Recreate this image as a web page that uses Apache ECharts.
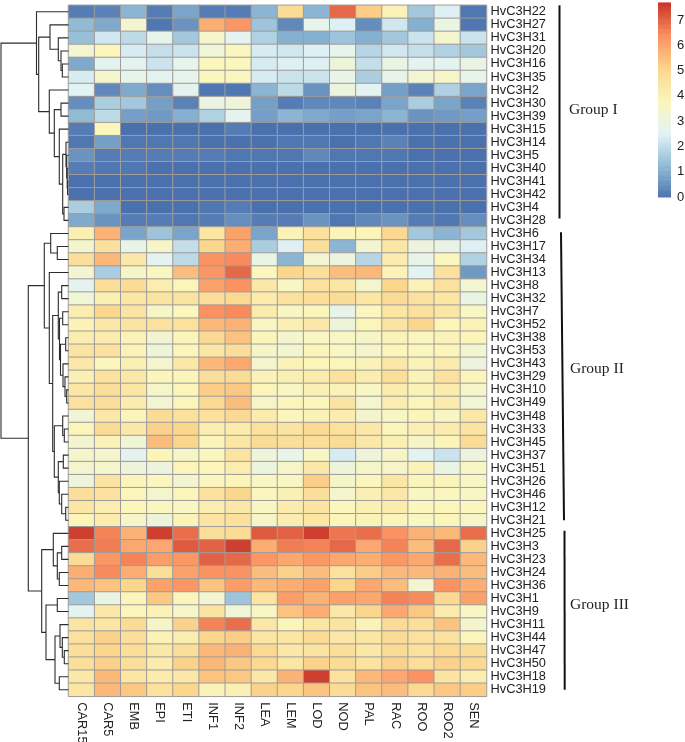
<!DOCTYPE html>
<html>
<head>
<meta charset="utf-8">
<title>HvC3H expression heatmap</title>
<script src="https://cdn.jsdelivr.net/npm/echarts@6/dist/echarts.min.js"></script>
<style>
  html, body { margin: 0; padding: 0; background: #fff; }
  #chart { width: 685px; height: 742px; }
</style>
</head>
<body>
<div id="chart"></div>
<script>
var tissues = ['CAR15','CAR5','EMB','EPI','ETI','INF1','INF2','LEA','LEM','LOD','NOD','PAL','RAC','ROO','ROO2','SEN'];

var genesGroupI = ['HvC3H22','HvC3H27','HvC3H31','HvC3H20','HvC3H16','HvC3H35','HvC3H2','HvC3H30','HvC3H39','HvC3H15','HvC3H14','HvC3H5','HvC3H40','HvC3H41','HvC3H42','HvC3H4','HvC3H28'];
var genesGroupII = ['HvC3H6','HvC3H17','HvC3H34','HvC3H13','HvC3H8','HvC3H32','HvC3H7','HvC3H52','HvC3H38','HvC3H53','HvC3H43','HvC3H29','HvC3H10','HvC3H49','HvC3H48','HvC3H33','HvC3H45','HvC3H37','HvC3H51','HvC3H26','HvC3H46','HvC3H12','HvC3H21'];
var genesGroupIII = ['HvC3H25','HvC3H3','HvC3H23','HvC3H24','HvC3H36','HvC3H1','HvC3H9','HvC3H11','HvC3H44','HvC3H47','HvC3H50','HvC3H18','HvC3H19'];

// values, one row per gene, same order as tissues
var exprGroupI = [
  [0.2,0.3,1.2,0.2,0.9,0.2,0.2,1.2,4.9,1.2,7.0,5.3,4.0,1.6,2.5,0.1],
  [1.3,1.0,3.4,0.1,0.6,5.9,6.3,1.5,0.4,2.8,2.5,0.5,2.3,1.1,3.0,0.1],
  [1.4,2.3,2.0,2.8,1.6,3.5,2.7,1.8,1.1,1.1,1.5,1.1,1.6,2.2,3.5,2.2],
  [3.4,3.9,2.4,2.1,2.2,3.3,3.8,2.4,2.3,2.5,2.8,1.9,2.3,2.1,1.8,1.6],
  [1.0,2.7,2.7,2.2,2.8,3.8,3.8,2.4,2.5,2.5,3.2,2.1,3.0,2.7,2.7,3.0],
  [2.4,3.5,2.8,2.7,2.8,3.8,3.8,2.4,2.2,2.2,2.9,1.7,2.9,3.4,3.6,2.8],
  [2.6,0.4,1.0,0.5,2.7,0.1,0.1,1.2,2.0,0.6,3.1,2.7,0.8,0.3,1.8,0.9],
  [0.5,1.7,1.6,0.8,0.3,3.0,3.2,0.8,0.2,0.4,0.4,0.3,0.9,1.7,0.9,0.3],
  [1.3,2.0,0.8,0.7,1.1,1.8,2.7,0.8,1.2,1.0,0.8,0.9,1.2,0.6,0.7,0.8],
  [0.2,3.8,0,0,0,0,0.2,0,0,0,0,0,0,0,0,0],
  [0.1,0.8,0.1,0.1,0.1,0,0,0,0.1,0.1,0,0.1,0.3,0,0,0],
  [0.6,0.2,0.2,0.2,0.2,0.2,0.1,0.1,0.1,0.4,0.1,0.1,0.1,0,0,0],
  [0.2,0.1,0.1,0,0,0,0,0,0,0,0,0,0,0,0,0],
  [0,0,0,0,0,0,0,0,0,0,0,0,0,0,0,0],
  [0,0,0,0,0,0,0,0,0,0,0,0,0,0,0,0],
  [1.7,1.0,0,0,0,0.1,0.2,0,0,0,0,0,0,0,0,0],
  [1.0,0.6,0.2,0.2,0.1,0.2,0.5,0.2,0.2,0.6,0.1,0.4,0.6,0.2,0.1,0.5]
];
var exprGroupII = [
  [4.1,5.8,0.9,1.5,0.9,4.5,6.1,0.9,4.0,4.7,3.9,3.9,5.0,1.6,1.2,1.6],
  [3.5,4.7,2.9,3.6,2.1,5.1,5.9,1.7,2.5,4.8,1.2,3.4,4.5,3.1,2.9,2.5],
  [4.8,5.7,4.4,2.7,2.0,6.4,6.5,3.0,1.2,3.4,3.1,1.9,4.3,2.9,3.8,1.8],
  [3.4,1.7,3.6,3.8,5.6,6.3,7.0,3.8,5.1,4.8,5.6,5.7,4.0,2.6,4.7,0.7],
  [2.7,4.8,4.9,4.2,3.9,6.1,6.4,4.4,3.7,4.7,4.5,3.5,5.1,4.0,4.7,3.4],
  [3.3,4.1,4.5,4.6,4.6,4.8,5.0,4.3,4.7,4.8,4.9,4.5,4.9,4.7,4.5,3.0],
  [4.2,5.1,4.6,3.6,3.8,6.4,6.5,4.3,3.7,3.9,2.8,3.8,4.5,4.7,4.5,3.7],
  [4.0,4.4,4.6,4.7,4.7,5.7,5.8,3.7,4.1,4.4,3.2,3.9,4.6,5.1,3.9,4.0],
  [4.2,4.3,4.0,3.4,3.9,5.0,5.5,3.9,3.5,3.7,3.7,3.6,4.0,3.8,4.0,3.9],
  [4.6,4.7,4.0,3.2,3.9,4.5,4.8,3.6,3.4,3.9,3.7,3.5,3.9,3.8,3.9,3.4],
  [4.4,3.8,4.1,3.5,4.4,5.7,6.0,3.5,4.0,3.9,3.9,4.0,4.4,4.0,4.3,3.1],
  [4.1,4.7,4.4,3.9,3.9,4.8,4.9,4.0,4.1,4.3,4.7,4.2,4.8,4.0,4.7,3.9],
  [4.5,4.8,4.5,3.6,3.9,5.3,5.4,3.9,3.7,4.1,4.0,3.7,4.3,4.0,4.3,3.6],
  [4.7,4.8,4.3,3.4,3.9,5.0,5.6,3.6,3.9,3.9,4.6,3.5,4.2,3.9,4.3,3.3],
  [3.3,4.4,3.9,4.9,4.7,4.7,5.0,4.3,3.8,4.0,4.2,3.5,3.7,3.9,3.7,4.4],
  [3.9,4.9,4.4,5.2,5.1,4.2,4.3,4.7,4.6,5.0,4.7,4.4,3.9,4.1,4.3,4.6],
  [3.4,4.0,3.3,5.6,5.1,3.9,4.5,4.9,4.8,4.8,4.9,4.4,4.1,3.6,3.9,4.9],
  [3.5,3.5,2.7,3.9,3.6,3.8,4.6,3.2,2.9,3.7,2.4,3.2,3.6,2.7,2.2,3.1],
  [3.5,3.5,3.2,3.1,3.9,3.9,4.2,3.1,3.6,4.4,3.2,3.6,3.6,4.0,3.0,3.7],
  [3.2,4.6,3.9,3.8,3.4,3.8,3.9,3.7,3.7,5.3,3.6,3.8,4.5,3.9,3.9,3.7],
  [4.8,4.7,3.9,3.5,3.9,4.7,5.1,3.8,4.1,4.8,3.5,4.1,4.4,3.7,3.8,3.7],
  [4.5,4.2,3.9,3.8,3.7,4.2,4.4,3.7,4.3,4.6,3.8,4.1,4.3,3.8,3.9,3.8],
  [3.9,4.3,3.6,3.2,4.0,4.6,4.7,3.6,4.2,4.5,3.9,4.0,3.9,3.7,3.9,3.6]
];
var exprGroupIII = [
  [7.6,6.6,5.8,7.6,6.9,4.8,4.9,7.2,7.1,7.6,6.8,6.9,6.4,5.8,5.7,6.9],
  [6.9,6.7,6.0,6.0,7.2,7.1,7.6,5.9,6.7,6.6,7.0,6.0,6.6,5.6,7.0,5.2],
  [4.9,6.3,6.6,6.2,6.3,7.1,7.0,6.3,6.0,6.3,6.0,5.9,6.3,6.0,6.9,5.7],
  [5.9,6.5,5.9,4.8,6.1,6.4,6.4,5.6,5.2,5.6,4.7,5.3,5.7,5.7,5.8,5.6],
  [5.7,5.5,5.1,6.1,6.3,5.5,6.2,5.7,5.9,6.1,5.1,6.0,5.6,3.4,6.4,5.9],
  [1.6,3.0,3.9,5.4,3.9,3.4,1.5,4.6,6.2,5.8,6.1,6.0,6.6,6.5,5.0,6.1],
  [2.6,4.4,3.9,4.0,3.6,4.6,3.3,3.7,5.5,5.9,4.4,5.1,6.0,5.4,4.3,3.7],
  [4.6,4.5,4.9,3.6,5.2,6.6,6.9,4.4,3.9,4.5,4.6,4.0,4.9,4.8,5.5,3.5],
  [4.7,5.2,4.8,4.0,4.2,5.1,5.3,4.5,4.5,4.9,4.4,4.5,4.9,4.7,4.7,3.9],
  [4.8,5.1,4.8,4.4,4.8,5.7,5.8,5.0,4.4,4.6,4.8,4.4,4.9,4.7,5.0,4.9],
  [4.8,5.2,4.8,4.3,5.2,5.7,5.4,5.0,4.5,5.2,4.9,4.6,5.2,4.8,5.2,5.0],
  [4.4,5.7,4.5,4.3,4.4,5.5,5.4,4.4,5.8,7.6,4.7,5.7,6.0,6.4,4.6,4.2],
  [4.5,5.7,5.4,4.7,5.1,4.0,4.1,5.2,5.1,5.5,4.9,5.5,5.6,5.0,5.4,5.3]
];

// dendrogram as nested merges: [depth from the left, child, child], a plain number is a row index
var treeGroupI = [36.5, 0, [38.7,
  [50, 1, [58.3, 2, [61, 3, [62.3, 4, 5]]]],
  [49.3, 6, [54.3, [61, 7, 8], [59.3, 9, [62.7,
    [66, 10, [66.7, 11, [67.2, 12, [67.6, 13, 14]]]],
    [64, 15, 16]]]]]]];
var treeGroupII = [44.3,
  [50.7, 17, [57.3, 18, 19]],
  [49.3, 20, [52.7,
    [58.3, [61.7, 21, 22], [59.5, [62.7, 23, 24], [60.5, [65.7, 25, 26], [63, 27, [65, 28, [66.7, 29, 30]]]]]],
    [54.3, [62.7, 31, [64.3, 32, 33]],
      [58.3, [63.3, 34, 35], [59.3, 36, [61.7, 37, [65.7, 38, 39]]]]]]]];
var treeGroupIII = [41.7,
  [53.3, 40, [57.3, [61.7, 41, 42], [59.3, 43, 44]]],
  [46, [57.3, 45, 46], [55,
    [60, 47, [62.3, 48, [64.3, 49, 50]]],
    [59.3, 51, 52]]]];
var tree = [1, treeGroupI, [28.3, treeGroupII, treeGroupIII]];

var groupNames = ['Group I', 'Group II', 'Group III'];
var groupBarFrom = [-0.5, 16.9, 39.8];
var groupBarTo = [15.85, 39.0, 52.0];
var groupNameRow = [7.5, 27.4, 45.5];

var legendMax = 7.7;

var genes = genesGroupI.concat(genesGroupII, genesGroupIII);
var expr = exprGroupI.concat(exprGroupII, exprGroupIII);

var cells = [];
expr.forEach(function (row, r) {
  row.forEach(function (v, c) { cells.push([c, r, v]); });
});

// walk the tree, y of a merge is the middle of its two children
var LEAF_DEPTH = 68.5;
var links = [];
function walk(node) {
  if (typeof node === 'number') return { x: LEAF_DEPTH, y: node };
  var a = walk(node[1]);
  var b = walk(node[2]);
  links.push([node[0], a.x, a.y, b.x, b.y]);
  return { x: node[0], y: (a.y + b.y) / 2 };
}
walk(tree);

var barData = groupNames.map(function (n, i) {
  return [i, groupBarFrom[i], groupBarTo[i], groupNameRow[i]];
});

// colour key: thin bands, the visualMap bar itself has rounded corners
var legendBands = [];
for (var k = 0; k < 77; k++) legendBands.push([k / 10, (k + 1) / 10]);

var TOP = 5.3, HEIGHT = 691, TXT = '#222', SANS = '"Liberation Sans", Arial, sans-serif';
// the bars lean a little in the original
var barX = [[72.5, 72.5], [74, 77], [77.5, 77.7]];
var nameX = [82, 83, 83];

var chart = echarts.init(document.getElementById('chart'), null, { renderer: 'canvas' });
chart.setOption({
  animation: false,
  backgroundColor: '#fff',
  grid: [
    { left: 68.5, top: TOP, width: 418, height: HEIGHT, outerBoundsMode: 'none' },   // heatmap
    { left: 0, top: TOP, width: LEAF_DEPTH, height: HEIGHT, outerBoundsMode: 'none' }, // dendrogram
    { left: 487, top: TOP, width: 100, height: HEIGHT, outerBoundsMode: 'none' },    // group bars
    { left: 658, top: 2.4, width: 13, height: 194.6, outerBoundsMode: 'none' }       // colour key
  ],
  xAxis: [
    { gridIndex: 0, type: 'category', data: tissues, position: 'bottom',
      axisLine: { show: false }, axisTick: { show: false }, splitLine: { show: false },
      axisLabel: { interval: 0, rotate: -90, margin: 6, fontSize: 12.8, color: TXT, fontFamily: SANS } },
    { gridIndex: 1, type: 'value', min: 0, max: LEAF_DEPTH, show: false },
    { gridIndex: 2, type: 'value', min: 0, max: 100, show: false },
    { gridIndex: 3, type: 'value', min: 0, max: 1, show: false }
  ],
  yAxis: [
    { gridIndex: 0, type: 'category', data: genes, inverse: true, position: 'right',
      axisLine: { show: false }, axisTick: { show: false }, splitLine: { show: false },
      axisLabel: { interval: 0, margin: 4, fontSize: 12.8, color: TXT, fontFamily: SANS } },
    { gridIndex: 1, type: 'value', min: -0.5, max: 52.5, inverse: true, show: false },
    { gridIndex: 2, type: 'value', min: -0.5, max: 52.5, inverse: true, show: false },
    { gridIndex: 3, type: 'value', min: 0, max: legendMax, interval: 1, position: 'right',
      axisLine: { show: false }, axisTick: { show: false }, splitLine: { show: false },
      axisLabel: { margin: 6, fontSize: 13, color: TXT, fontFamily: SANS, showMaxLabel: false } }
  ],
  visualMap: {
    type: 'continuous',
    show: false,
    min: 0,
    max: legendMax,
    seriesIndex: [0, 3],
    inRange: { color: ['#4A71AE', '#8FBAD5', '#E2F3F6', '#FBF6BC', '#FBD68D', '#FB9160', '#CB382B'] }
  },
  series: [
    {
      type: 'heatmap',
      xAxisIndex: 0,
      yAxisIndex: 0,
      data: cells,
      itemStyle: { borderColor: '#9e9c9a', borderWidth: 1 },
      emphasis: { disabled: true }
    },
    {
      type: 'custom',
      xAxisIndex: 1,
      yAxisIndex: 1,
      data: links,
      silent: true,
      clip: false,
      renderItem: function (params, api) {
        var x = api.value(0), xa = api.value(1), ya = api.value(2), xb = api.value(3), yb = api.value(4);
        return {
          type: 'polyline',
          shape: { points: [api.coord([xa, ya]), api.coord([x, ya]), api.coord([x, yb]), api.coord([xb, yb])] },
          style: { fill: 'none', stroke: '#2c2c2c', lineWidth: 1.1 }
        };
      }
    },
    {
      type: 'custom',
      xAxisIndex: 2,
      yAxisIndex: 2,
      data: barData,
      silent: true,
      clip: false,
      renderItem: function (params, api) {
        var i = api.value(0);
        var from = api.coord([barX[i][0], api.value(1)]);
        var to = api.coord([barX[i][1], api.value(2)]);
        var at = api.coord([nameX[i], api.value(3)]);
        return {
          type: 'group',
          children: [
            { type: 'line', shape: { x1: from[0], y1: from[1], x2: to[0], y2: to[1] },
              style: { stroke: '#111', lineWidth: 2 } },
            { type: 'text', x: at[0], y: at[1],
              style: { text: groupNames[i], fill: '#222', font: '15.5px "Liberation Serif", "Times New Roman", serif',
                textAlign: 'left', textVerticalAlign: 'middle' } }
          ]
        };
      }
    },
    {
      type: 'custom',
      xAxisIndex: 3,
      yAxisIndex: 3,
      data: legendBands,
      silent: true,
      renderItem: function (params, api) {
        var p0 = api.coord([0, api.value(0)]);
        var p1 = api.coord([1, api.value(1)]);
        return {
          type: 'rect',
          shape: { x: p0[0], y: p1[1], width: p1[0] - p0[0], height: p0[1] - p1[1] + 0.5 },
          style: { fill: api.visual('color') }
        };
      }
    }
  ]
});
</script>
</body>
</html>
